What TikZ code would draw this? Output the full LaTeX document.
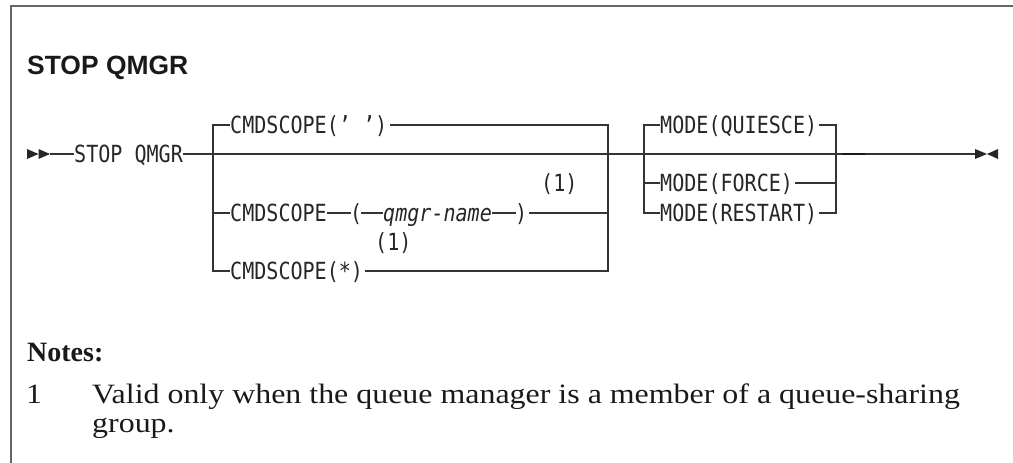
\documentclass[tikz,border=0pt]{standalone}
\usepackage{fontspec}
\newfontfamily\monofnt[FakeStretch=0.85]{DejaVu Sans Mono}
\newfontfamily\titlefnt{Liberation Sans}
\newfontfamily\notefnt[FakeStretch=1.14]{Liberation Serif}
\newfontfamily\noteboldfnt{Liberation Serif}
\begin{document}
\begin{tikzpicture}[x=1pt,y=-1pt,
  kw/.style={font=\monofnt\fontsize{23.6}{25}\selectfont, inner sep=0pt, anchor=base west, text=black!85},
  kwit/.style={kw, font=\monofnt\itshape\fontsize{23.6}{25}\selectfont},
  ln/.style={line width=1.1pt, draw=black!80},
  tri/.style={fill=black!85},
  frame/.style={line width=1.6pt, draw=black!60},
  notetxt/.style={font=\notefnt\fontsize{28}{30}\selectfont, inner sep=0pt, anchor=base west, text=black!90}]
\useasboundingbox (0,0) rectangle (1013,463);
% frame
\draw[frame] (1013,6) -- (11,6) -- (11,463);
% title
\node[anchor=base west, inner sep=0pt, text=black!90] (title) at (27,74) {\resizebox{161pt}{!}{\titlefnt\bfseries STOP QMGR}};
% start
\fill[tri] (27,149) -- (38.5,154) -- (27,159) -- cycle;
\fill[tri] (38.5,149) -- (50,154) -- (38.5,159) -- cycle;
\coordinate (start) at (50,154);
\node[kw] (stop) at (74,162.6) {STOP QMGR};
\draw[ln] (start) -- (stop.west |- start);
% junctions
\coordinate (bl) at (213,154);
\coordinate (br) at (608,154);
\coordinate (ml) at (644,154);
\coordinate (mr) at (836,154);
\coordinate (fin) at (975,154);
% main line
\draw[ln] (stop.east |- start) -- (fin);
\draw[line width=2pt, black!90] (842,154) -- (865,154);
% CMDSCOPE branches
\node[kw] (c1) at (230,133.6) {CMDSCOPE(’ ’)};
\node[kw] (c2) at (230,221.6) {CMDSCOPE};
\node[kw] (lp) at (350,221.6) {(};
\node[kwit] (qn) at (383,221.6) {qmgr-name};
\node[kw] (rp) at (515,221.6) {)};
\node[kw] (n1) at (541,191.6) {(1)};
\node[kw] (c3) at (230,279.6) {CMDSCOPE(*)};
\node[kw] (n2) at (375,250.6) {(1)};
\draw[ln] (c1.west |- 0,125) -| (bl) -- (213,271) -- (c3.west |- 0,271);
\draw[ln] (213,213) -- (c2.west |- 0,213);
\draw[ln] (c2.east |- 0,213) -- ([xshift=1pt]lp.west |- 0,213);
\draw[ln] ([xshift=-1pt]lp.east |- 0,213) -- (qn.west |- 0,213);
\draw[ln] (qn.east |- 0,213) -- ([xshift=1pt]rp.west |- 0,213);
\draw[ln] ([xshift=2pt]rp.east |- 0,213) -- (608,213);
\draw[ln] ([xshift=3pt]c1.east |- 0,125) -| (br) -- (608,271) -- ([xshift=2pt]c3.east |- 0,271);
% MODE branches
\node[kw] (m1) at (660,133.6) {MODE(QUIESCE)};
\node[kw] (m2) at (660,191.6) {MODE(FORCE)};
\node[kw] (m3) at (660,221.6) {MODE(RESTART)};
\draw[ln] (m1.west |- 0,125) -| (ml) -- (644,213) -- (m3.west |- 0,213);
\draw[ln] (644,183) -- (m2.west |- 0,183);
\draw[ln] ([xshift=2pt]m1.east |- 0,125) -| (mr) -- (836,213) -- ([xshift=2pt]m3.east |- 0,213);
\draw[ln] ([xshift=2pt]m2.east |- 0,183) -- (836,183);
% end
\fill[tri] (fin) -- ++(0,-5) -- ++(12,5) -- ++(-12,5) -- cycle;
\fill[tri] (998,149) -- (987,154) -- (998,159) -- cycle;
% notes
\node[font=\noteboldfnt\bfseries\fontsize{28}{30}\selectfont, anchor=base west, inner sep=0pt, text=black!90] (notes) at (27,361) {Notes:};
\node[notetxt] (k1) at (26,403) {1};
\node[notetxt] (t1) at (92,403) {Valid only when the queue manager is a member of a queue-sharing};
\node[notetxt] (t2) at (92,432) {group.};
\end{tikzpicture}
\end{document}
